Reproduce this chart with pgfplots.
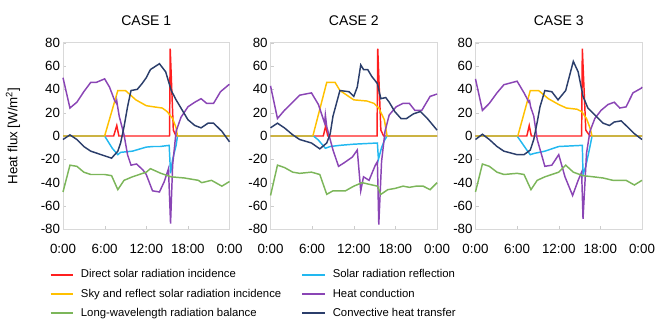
\documentclass[border=0pt]{standalone}
\usepackage{pgfplots}
\pgfplotsset{compat=1.18}
\usepackage{fontspec}
\setmainfont{Liberation Sans}
\definecolor{cRed}{HTML}{FF1F1F}
\definecolor{cYel}{HTML}{FFC000}
\definecolor{cCyan}{HTML}{22B8F0}
\definecolor{cPur}{HTML}{8A45B5}
\definecolor{cGrn}{HTML}{7CB65A}
\definecolor{cNavy}{HTML}{2B3E6B}
\pgfplotsset{
  panel/.style={
    scale only axis, width=124.9pt, height=139.95pt,
    anchor=south west,
    xmin=0, xmax=24, ymin=-80, ymax=80,
    xtick={0,6,12,18,24}, xticklabels={0:00,6:00,12:00,18:00,0:00},
    ytick={-80,-60,...,80},
    xtick pos=bottom, ytick pos=left,
    axis line style={gray!30}, tick style={gray!40},
    tick align=inside, major tick length=2.5pt,
    tick label style={font=\fontsize{10}{12}\selectfont},
    xticklabel style={yshift=-8pt},
    yticklabel style={inner sep=2pt},
    /pgf/number format/assume math mode=true,
    title style={font=\fontsize{10.5}{12}\selectfont, yshift=3pt},
    every axis plot/.append style={line width=1.1pt, no markers},
    legend cell align=left,
    legend image post style={line width=1.3pt},
    clip=false,
  },
  leg/.style={legend style={draw=none, fill=none, inner sep=0pt, at={#1}, anchor=north west,
    font=\fontsize{8.5}{10}\selectfont, row sep=2.8pt,
    /tikz/every odd column/.append style={column sep=3pt}}},
}
\begin{document}
\begin{tikzpicture}
\useasboundingbox (0,0) rectangle (492.75pt,-240pt);
% ---------------- CASE 1
\begin{axis}[panel, at={(47.25pt,-171.98pt)}, title={CASE 1},
  ylabel={Heat flux [W/m\textsuperscript{2}]},
  ylabel style={at={(rel axis cs:-0.30,0.5)}, anchor=center, font=\fontsize{10}{12}\selectfont},
  leg={(-0.081,-0.200)},
]
\addplot[color=cRed] coordinates {(0,0)(7.3,0)(7.75,9)(8.05,0)(15.35,0)(15.45,75)(15.9,5)(16.3,0)(24,0)};
\addlegendentry{Direct solar radiation incidence}
\addplot[color=cCyan, forget plot] coordinates {(0,0)(6,0)(7.1,-10.5)(7.9,-16)(8.3,-14)(10,-13)(12,-9.5)(13,-9)(14,-9)(15.3,-8)(15.5,-32)(15.8,-20)(16.3,-8)(16.5,0)(24,0)};
\addplot[color=cYel] coordinates {(0,0)(6,0)(7.9,39)(9,39)(10.5,31)(12,26)(13.1,25)(14.3,24)(15,21)(15.8,15)(16.3,7)(16.5,0)(24,0)};
\addlegendentry{Sky and reflect solar radiation incidence}
\addplot[color=cPur, forget plot] coordinates {(0,50)(1,24)(2,29)(3,38)(4,46)(4.8,46)(6,49)(6.7,42)(7.4,31)(7.7,28)(7.75,30)(7.85,26)(8.1,17)(8.8,1)(9.3,-16)(9.8,-25)(10.6,-24)(11.5,-29)(12,-33)(12.9,-47)(13.9,-48)(14.6,-39)(15.2,-28)(15.5,-75)(15.8,-25)(16.3,4)(17,16)(18,25)(19,29)(19.9,32)(20.7,28)(21.7,28)(22.7,38)(23.9,44)(24,44)};
\addplot[color=cGrn] coordinates {(0,-48)(1,-25)(2,-26)(3,-31)(4,-33)(6,-33)(7,-34)(7.9,-46)(8.8,-38)(10,-35)(11,-33)(12,-31)(12.6,-28)(14.1,-32)(15.6,-35)(17.5,-36)(19.5,-38)(20,-40)(21.4,-38)(22.9,-43)(24,-39)};
\addlegendentry{Long-wavelength radiation balance}
\addplot[color=cNavy, forget plot] coordinates {(0,-3)(1,1)(2,-3)(3,-9)(4,-13)(5,-15)(6,-17)(7,-19)(7.9,-13)(8.3,-6)(8.8,8)(9.3,25)(9.8,39)(10.7,40)(11.4,45)(12,50)(12.6,57)(13.9,62)(14.8,55)(15.6,39)(16.3,31)(17.3,21)(18,14)(19,9)(19.9,7)(20.9,11)(21.7,11)(22.9,4)(24,-5)};
\end{axis}
% ---------------- CASE 2
\begin{axis}[panel, at={(202.9pt,-171.98pt)}, title={CASE 2},
  leg={(0.185,-0.200)}]
\addplot[color=cRed, forget plot] coordinates {(0,0)(7.6,0)(7.95,8.5)(8.25,0)(15.35,0)(15.45,75)(15.9,5)(16.3,0)(24,0)};
\addplot[color=cCyan] coordinates {(0,0)(6.2,0)(6.9,-3.5)(7.9,-10.5)(8.6,-9)(10,-8)(12,-7)(15.4,-6)(15.55,-20)(16,-10)(16.4,-4)(16.8,0)(24,0)};
\addlegendentry{Solar radiation reflection}
\addplot[color=cYel, forget plot] coordinates {(0,0)(6.1,0)(8.1,46)(9.3,46)(10,39)(12,31)(13.9,30)(14.9,28)(15.6,24)(16.4,14)(16.8,0)(24,0)};
\addplot[color=cPur] coordinates {(0,43)(1,15)(2,22)(3.2,29)(4.2,35)(5.9,37)(6.9,27)(7.8,11)(7.9,18)(8.1,8)(9,-12)(9.8,-26)(10.6,-23)(11.8,-18)(12.5,-12)(13,-47)(13.4,-35)(14.2,-38)(15.1,-25)(15.4,-22)(15.6,-76)(16,-22)(16.5,4)(17.1,18)(18.1,25)(19.1,28)(20,28)(20.8,22)(21.8,22)(23,34)(24,36)};
\addlegendentry{Heat conduction}
\addplot[color=cGrn, forget plot] coordinates {(0,-51)(1,-25)(2,-27)(3.2,-31)(4.2,-32)(5.9,-31)(7.1,-33)(8.1,-50)(9,-47)(10.8,-47)(12,-43)(13.2,-40)(15.4,-43)(15.9,-50)(16.9,-46)(17.9,-45)(19.1,-43)(20,-44)(21,-43)(22,-43)(23,-46)(24,-40)};
\addplot[color=cNavy] coordinates {(0,7)(1,11)(2,7)(3.2,1)(4.2,-3)(5.9,-6)(7.1,-11)(8.1,-6)(8.6,2)(9,17)(10,39)(11.3,38)(12,34)(12.5,42)(13,61)(13.4,57)(14,57)(14.6,51)(15.4,45)(15.9,32)(16.6,33)(17.1,29)(17.9,21)(18.8,15)(19.6,15)(20.6,19)(21.6,21)(22.6,15)(24,5)};
\addlegendentry{Convective heat transfer}
\end{axis}
% ---------------- CASE 3
\begin{axis}[panel, at={(356.6pt,-171.98pt)}, title={CASE 3}]
\addplot[color=cRed] coordinates {(0,0)(7.4,0)(7.75,9)(8.05,0)(15.3,0)(15.4,75)(15.9,5)(16.5,0)(24,0)};
\addplot[color=cCyan] coordinates {(0,0)(6,0)(7.4,-12)(7.9,-16)(8.4,-15)(10,-13)(12,-9)(15.4,-8)(15.5,-33)(15.9,-26)(16.5,-9)(16.8,0)(24,0)};
\addplot[color=cYel] coordinates {(0,0)(6.1,0)(7.9,39)(9.1,39)(10.5,32)(12,27)(13.1,24)(14.6,23)(15.3,21)(16,15)(16.5,7)(16.8,0)(24,0)};
\addplot[color=cPur] coordinates {(0,49)(1,22)(2,28)(3.1,37)(4.1,44)(6,47)(7,37)(7.7,29)(7.8,30)(7.95,25)(8.4,17)(8.9,-3)(10,-26)(11,-25)(12,-16)(12.9,-35)(14,-51)(14.8,-38)(15.3,-31)(15.5,-71)(16,-15)(16.5,4)(17.2,15)(18.1,22)(19.1,27)(20,29)(20.8,24)(21.7,25)(22.7,37)(23.9,41)(24,42)};
\addplot[color=cGrn] coordinates {(0,-48)(1,-24)(2,-26)(3.1,-31)(4.1,-33)(6,-32)(7,-33)(8,-46)(8.9,-38)(10,-35)(12,-31)(13,-25)(14.1,-31)(15.5,-34)(17,-35)(18.4,-36)(19.8,-38)(21,-38)(21.7,-38)(22.9,-42)(24,-38)};
\addplot[color=cNavy] coordinates {(0,-3)(1,1.5)(2,-3)(3.1,-9)(4.1,-13)(6,-16)(7,-16)(7.9,-12)(8.4,-3)(8.9,12)(9.3,25)(10,39)(11,38)(11.9,31)(13,39)(14.1,64)(14.8,55)(15.5,34)(16.2,24)(17.2,18)(18.4,11)(19.3,9)(20,12)(21,13)(21.7,9)(22.9,2)(24,-3)};
\end{axis}
\end{tikzpicture}
\end{document}
